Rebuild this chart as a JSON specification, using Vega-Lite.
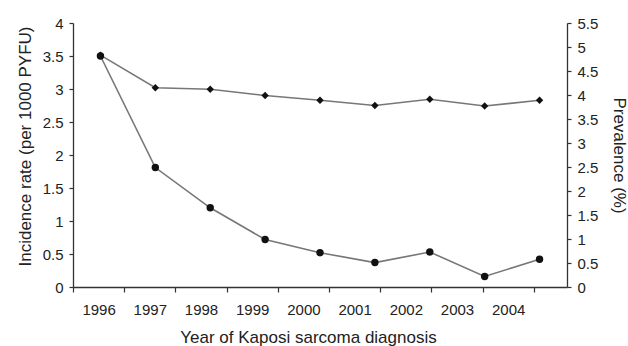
{
  "$schema": "https://vega.github.io/schema/vega-lite/v6.json",
  "autosize": "none",
  "width": 494,
  "height": 264,
  "padding": {"left": 73, "top": 23, "right": 61, "bottom": 59},
  "background": "white",
  "config": {
    "view": {"stroke": null},
    "axis": {
      "labelFont": "Liberation Sans",
      "titleFont": "Liberation Sans",
      "labelFontSize": 15,
      "titleFontSize": 17,
      "titleFontWeight": "normal",
      "labelColor": "#222",
      "titleColor": "#222",
      "domainColor": "#333",
      "tickColor": "#333",
      "domainWidth": 1.3,
      "tickWidth": 1.2,
      "grid": false
    }
  },
  "data": {
    "values": [
      {"year": "1996", "inc": 3.5, "prev": 4.83},
      {"year": "1997", "inc": 1.81, "prev": 4.15},
      {"year": "1998", "inc": 1.2, "prev": 4.12},
      {"year": "1999", "inc": 0.72, "prev": 3.99},
      {"year": "2000", "inc": 0.52, "prev": 3.89},
      {"year": "2001", "inc": 0.37, "prev": 3.78},
      {"year": "2002", "inc": 0.53, "prev": 3.91},
      {"year": "2003", "inc": 0.16, "prev": 3.77},
      {"year": "2004", "inc": 0.42, "prev": 3.89}
    ]
  },
  "layer": [
    {
      "mark": {"type": "point", "opacity": 0},
      "encoding": {
        "x": {
          "field": "year", "type": "ordinal",
          "scale": {"type": "band", "paddingInner": 0, "paddingOuter": 0.324, "align": 0},
          "axis": {"title": "Year of Kaposi sarcoma diagnosis", "labelAngle": 0, "tickBand": "extent", "tickSize": 5, "labelPadding": 10, "titlePadding": 12, "titleX": 235}
        },
        "y": {
          "field": "inc", "type": "quantitative",
          "scale": {"domain": [0, 4], "nice": false},
          "axis": {"title": "Incidence rate (per 1000 PYFU)", "orient": "left", "values": [0, 0.5, 1, 1.5, 2, 2.5, 3, 3.5, 4], "format": "~g", "tickSize": 4, "labelPadding": 6, "titlePadding": 8, "titleY": 123}
        }
      }
    },
    {
      "mark": {"type": "line", "color": "#777", "strokeWidth": 1.6},
      "encoding": {
        "x": {"field": "year", "type": "ordinal", "scale": {"type": "point", "padding": 0.5}, "axis": null},
        "y": {
          "field": "prev", "type": "quantitative",
          "scale": {"domain": [0, 5.5], "nice": false},
          "axis": {"title": "Prevalence (%)", "orient": "right", "values": [0, 0.5, 1, 1.5, 2, 2.5, 3, 3.5, 4, 4.5, 5, 5.5], "format": "~g", "tickSize": 4, "labelPadding": 6, "titlePadding": 12}
        }
      }
    },
    {
      "mark": {"type": "point", "shape": "diamond", "filled": true, "color": "#111", "opacity": 1, "size": 55},
      "encoding": {
        "x": {"field": "year", "type": "ordinal", "scale": {"type": "point", "padding": 0.5}, "axis": null},
        "y": {"field": "prev", "type": "quantitative", "scale": {"domain": [0, 5.5], "nice": false}, "axis": null}
      }
    },
    {
      "mark": {"type": "line", "color": "#777", "strokeWidth": 1.6},
      "encoding": {
        "x": {"field": "year", "type": "ordinal", "scale": {"type": "point", "padding": 0.5}, "axis": null},
        "y": {"field": "inc", "type": "quantitative", "scale": {"domain": [0, 4], "nice": false}, "axis": null}
      }
    },
    {
      "mark": {"type": "point", "shape": "circle", "filled": true, "color": "#111", "opacity": 1, "size": 55},
      "encoding": {
        "x": {"field": "year", "type": "ordinal", "scale": {"type": "point", "padding": 0.5}, "axis": null},
        "y": {"field": "inc", "type": "quantitative", "scale": {"domain": [0, 4], "nice": false}, "axis": null}
      }
    }
  ],
  "resolve": {"scale": {"x": "independent", "y": "independent"}, "axis": {"x": "independent", "y": "independent"}}
}
